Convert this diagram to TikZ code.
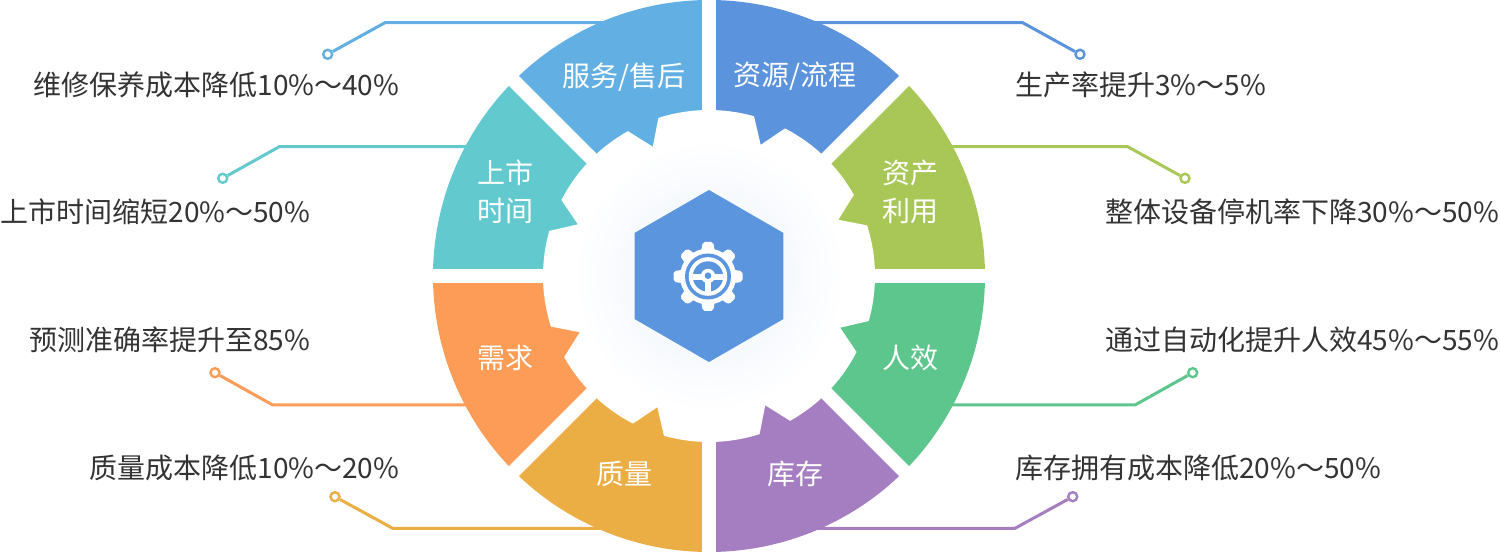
\documentclass[tikz,border=0pt]{standalone}
\usepackage{fontspec}
\setmainfont{Noto Sans CJK SC}
\usetikzlibrary{calc}
\definecolor{cServ}{HTML}{62B0E3}
\definecolor{cRes}{HTML}{5B93DC}
\definecolor{cAsset}{HTML}{A8C757}
\definecolor{cEff}{HTML}{5CC68C}
\definecolor{cInv}{HTML}{A57EC1}
\definecolor{cQual}{HTML}{EBAE44}
\definecolor{cDem}{HTML}{FD9C56}
\definecolor{cTime}{HTML}{62C9CF}
\definecolor{hexc}{HTML}{5B95DD}
\definecolor{txt}{HTML}{333333}
\definecolor{glow}{HTML}{EAF1FA}
\begin{document}
\begin{tikzpicture}[x=1pt,y=1pt,
  lead/.style={line width=3pt},
  dotm/.style={circle, draw, fill=white, line width=2.4pt, minimum size=9pt, inner sep=0pt},
  lbl/.style={text=txt, font=\fontsize{28}{30}\selectfont, inner sep=0pt},
  seg/.style={text=white, font=\fontsize{28}{38}\selectfont, align=center, inner sep=0pt},
  gapline/.style={white, line width=14pt}]
\useasboundingbox (0,0) rectangle (1500,552);
\fill[white] (0,0) rectangle (1500,552);
\coordinate (C) at (709,276);

% leader dots
\node[dotm, draw=cServ]  (d1) at (327.7,497.7) {};
\node[dotm, draw=cTime]  (d2) at (222.7,373.7) {};
\node[dotm, draw=cDem]   (d3) at (215,179.3) {};
\node[dotm, draw=cQual]  (d4) at (335,55.3) {};
\node[dotm, draw=cRes]   (d5) at (1080,497.7) {};
\node[dotm, draw=cAsset] (d6) at (1185,373.7) {};
\node[dotm, draw=cEff]   (d7) at (1192.7,179.3) {};
\node[dotm, draw=cInv]   (d8) at (1072.7,55.3) {};

% leader bends and starts
\coordinate (s1) at (650,529.3);  \coordinate (b1) at (385,529.3);
\coordinate (s2) at (490,405.3);  \coordinate (b2) at (279.3,405.3);
\coordinate (s3) at (490,147);    \coordinate (b3) at (272.7,147);
\coordinate (s4) at (640,23.7);   \coordinate (b4) at (392.7,23.7);
\coordinate (s5) at (770,529.3);  \coordinate (b5) at (1022.7,529.3);
\coordinate (s6) at (930,405.3);  \coordinate (b6) at (1127.7,405.3);
\coordinate (s7) at (930,147);    \coordinate (b7) at (1135,147);
\coordinate (s8) at (780,23.7);   \coordinate (b8) at (1015,23.7);

\draw[lead, cServ]  (s1) -- (b1) -- (d1);
\draw[lead, cTime]  (s2) -- (b2) -- (d2);
\draw[lead, cDem]   (s3) -- (b3) -- (d3);
\draw[lead, cQual]  (s4) -- (b4) -- (d4);
\draw[lead, cRes]   (s5) -- (b5) -- (d5);
\draw[lead, cAsset] (s6) -- (b6) -- (d6);
\draw[lead, cEff]   (s7) -- (b7) -- (d7);
\draw[lead, cInv]   (s8) -- (b8) -- (d8);

% ring
\begin{scope}[shift={(C)}]
  \fill[cAsset] (0,0) -- (0:276) arc[start angle=0, end angle=45, radius=276] -- cycle;
  \fill[cRes]   (0,0) -- (45:276) arc[start angle=45, end angle=90, radius=276] -- cycle;
  \fill[cServ]  (0,0) -- (90:276) arc[start angle=90, end angle=135, radius=276] -- cycle;
  \fill[cTime]  (0,0) -- (135:276) arc[start angle=135, end angle=180, radius=276] -- cycle;
  \fill[cDem]   (0,0) -- (180:276) arc[start angle=180, end angle=225, radius=276] -- cycle;
  \fill[cQual]  (0,0) -- (225:276) arc[start angle=225, end angle=270, radius=276] -- cycle;
  \fill[cInv]   (0,0) -- (270:276) arc[start angle=270, end angle=315, radius=276] -- cycle;
  \fill[cEff]   (0,0) -- (315:276) arc[start angle=315, end angle=360, radius=276] -- cycle;
  % white inner gear with notches
  \fill[white] (0:166)
    \foreach \k in {0,...,7} {
      arc[start angle=45*\k, end angle=45*\k+17.75, radius=166]
      -- ({45*\k+23.5}:141)
      -- ({45*\k+29.25}:166)
      arc[start angle=45*\k+29.25, end angle=45*\k+45, radius=166]
    } -- cycle;
  % gaps
  \foreach \a in {0,45,90,135}
    \draw[gapline] (\a:282) -- (\a+180:282);
  % glow
  \shade[inner color=glow, outer color=white] (0,0) circle (136);
  % hexagon
  \fill[hexc] (90:86) -- (150:86) -- (210:86) -- (270:86) -- (330:86) -- (30:86) -- cycle;
\end{scope}

% gear icon
\begin{scope}[shift={(708,275.5)}]
  \fill[white] (0,0) circle (28);
  \foreach \a in {0,45,...,315}
    \fill[white, rotate=\a, rounded corners=2pt] (-7,24) -- (-5.2,34.5) -- (5.2,34.5) -- (7,24) -- cycle;
  \fill[hexc] (0,0) circle (23);
  \fill[white] (0,0) circle (19.3);
  \fill[hexc] (0,0) circle (15.2);
  \begin{scope}
    \clip (0,0) circle (15.4);
    \fill[white] (-16,-4) rectangle (16,2.5);
    \fill[white] (-3,-16) rectangle (3,0);
  \end{scope}
  \fill[white] (0,0.5) circle (7.2);
  \fill[hexc] (0,0.8) circle (3.3);
\end{scope}

% segment labels
\node[seg] (l1) at (624,475) {服务/售后};
\node[seg] (l2) at (795,476) {资源/流程};
\node[seg] (l3) at (505,360) {上市\\时间};
\node[seg] (l4) at (910,360) {资产\\利用};
\node[seg] (l5) at (505,194) {需求};
\node[seg] (l6) at (910,194) {人效};
\node[seg] (l7) at (624,78) {质量};
\node[seg] (l8) at (795,78) {库存};

% leader labels
\node[lbl, anchor=east] (t1) at (399.5,467) {维修保养成本降低10\%～40\%};
\node[lbl, anchor=east] (t2) at (310.5,340.3) {上市时间缩短20\%～50\%};
\node[lbl, anchor=east] (t3) at (310.5,212) {预测准确率提升至85\%};
\node[lbl, anchor=east] (t4) at (399.5,83.7) {质量成本降低10\%～20\%};
\node[lbl, anchor=west] (t5) at (1015,467) {生产率提升3\%～5\%};
\node[lbl, anchor=west] (t6) at (1105,340.3) {整体设备停机率下降30\%～50\%};
\node[lbl, anchor=west] (t7) at (1105,212) {通过自动化提升人效45\%～55\%};
\node[lbl, anchor=west] (t8) at (1015,83.7) {库存拥有成本降低20\%～50\%};
\end{tikzpicture}
\end{document}
